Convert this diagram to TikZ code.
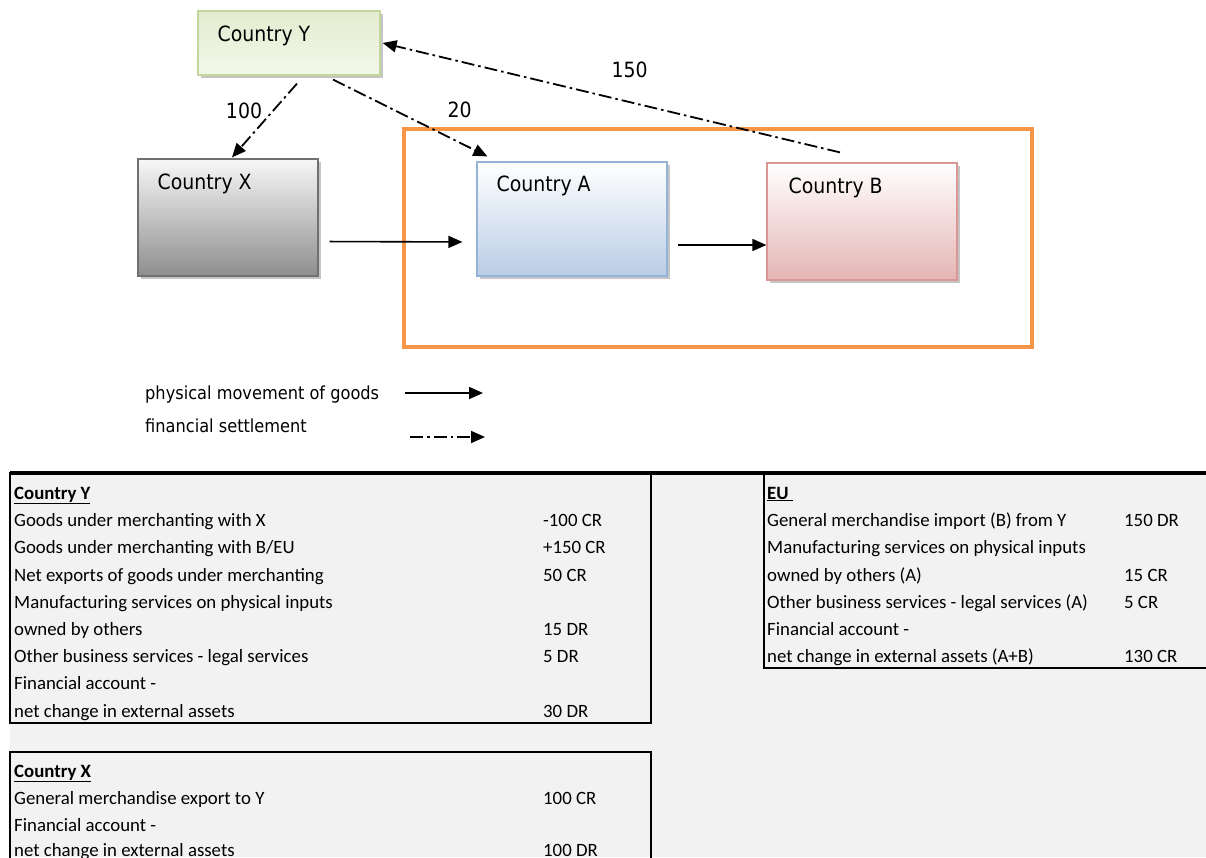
\documentclass[tikz,border=0pt]{standalone}
\usepackage{fontspec}
\usetikzlibrary{arrows.meta,shadows,positioning}
\newfontfamily\diagfont{DejaVu Sans}[FakeStretch=0.9]
\newfontfamily\tabfont{Carlito}
\definecolor{frameorange}{HTML}{F79646}
\definecolor{sheetgray}{HTML}{F2F2F2}
\definecolor{yline}{HTML}{C3D69B}
\definecolor{ytop}{HTML}{E3ECD0}
\definecolor{ybot}{HTML}{F3F7EA}
\definecolor{xline}{HTML}{707070}
\definecolor{xtop}{HTML}{F7F7F7}
\definecolor{xbot}{HTML}{8E8E8E}
\definecolor{aline}{HTML}{95B3D7}
\definecolor{abot}{HTML}{B9CDE5}
\definecolor{bline}{HTML}{D99694}
\definecolor{bbot}{HTML}{E4B5B4}

\begin{document}
\begin{tikzpicture}[x=1pt,y=-1pt,
  country/.style={draw, line width=1.2pt, inner sep=0pt,
    drop shadow={shadow xshift=3pt,shadow yshift=-3pt,fill=black!45,opacity=0.5}},
  boxtitle/.style={anchor=west, inner sep=0pt, font=\diagfont\fontsize{21}{24}\selectfont},
  num/.style={inner sep=0pt, font=\diagfont\fontsize{21}{24}\selectfont},
  legend/.style={anchor=west, inner sep=0pt, font=\diagfont\fontsize{18}{21}\selectfont},
  goods/.style={line width=1.6pt, -{Triangle[length=14pt,width=12pt]}},
  settle/.style={goods, line width=1.8pt, dash pattern=on 13pt off 4pt on 2.5pt off 4pt},
  cell/.style={anchor=base west, inner sep=0pt, font=\tabfont\fontsize{18.8}{22}\selectfont},
  rule/.style={line width=2.5pt}]
\useasboundingbox (0,0) rectangle (1206,857);
\clip (0,0) rectangle (1206,857);

% countries
\node[country, draw=yline, top color=ytop, bottom color=ybot, minimum width=182pt, minimum height=64pt] (cy) at (289,43) {};
\node[country, draw=xline, top color=xtop, bottom color=xbot, minimum width=180pt, minimum height=117pt] (cx) at (228,217.5) {};
\node[country, draw=aline, top color=white, bottom color=abot, minimum width=190pt, minimum height=114pt] (ca) at (572,219) {};
\node[country, draw=bline, top color=white, bottom color=bbot, minimum width=190pt, minimum height=117pt] (cb) at (862,221.5) {};
\node[boxtitle] (cyt) at ([xshift=20pt,yshift=-25pt]cy.north west) {Country Y};
\node[boxtitle] (cxt) at ([xshift=20pt,yshift=-25pt]cx.north west) {Country X};
\node[boxtitle] (cat) at ([xshift=20pt,yshift=-24pt]ca.north west) {Country A};
\node[boxtitle] (cbt) at ([xshift=22pt,yshift=-25pt]cb.north west) {Country B};

% EU frame
\draw[frameorange, line width=4pt] (404,129) rectangle (1032,347);

% goods and settlements
\draw[goods, shorten <=11pt, shorten >=14pt] ([yshift=-24pt]cx.east) -- ([yshift=-23pt]ca.west);
\draw[goods, shorten <=10pt] ([yshift=-26pt]ca.east) -- ([yshift=-23.5pt]cb.west);
\draw[settle] ([xshift=8pt,yshift=-8pt]cy.south) -- ([xshift=4pt,yshift=1pt]cx.north)
  node[num, pos=0.37, left=10pt] (n100) {100};
\draw[settle] ([xshift=44pt,yshift=-4pt]cy.south) -- ([xshift=11pt,yshift=5pt]ca.north west)
  node[num, pos=0.8, above=22pt, xshift=3pt] (n20) {20};
\draw[settle] ([xshift=-22pt,yshift=10pt]cb.north) -- ([xshift=2pt]cy.east)
  node[num, pos=0.46, above=23pt] (n150) {150};

% legend
\node[legend] (lgoods) at (145,395) {physical movement of goods};
\coordinate (lgoodsstart) at (405,393);
\coordinate (lgoodsend) at (483,393);
\draw[goods] (lgoodsstart) -- (lgoodsend);
\node[legend] (lsettle) at (145,426) {financial settlement};
\coordinate (lsettlestart) at (410,437);
\coordinate (lsettleend) at (485,437);
\draw[settle] (lsettlestart) -- (lsettleend);

% tables
\fill[sheetgray] (10,473) rectangle (1206,857);
\draw[line width=4pt] (10,473) -- (1206,473);
\draw[rule] (10,473) rectangle (651,723);
\draw[rule] (10,752) rectangle (651,880);
\draw[line width=2pt] (764,473) rectangle (1212,668);
\newcommand{\tabrow}[6]{\node[cell] (#1) at (#2,#4) {#5}; \node[cell] (#1v) at (#3,#4) {#6};}
\newcommand{\tabtext}[4]{\node[cell] (#1) at (#2,#3) {#4};}
% country Y
\tabtext{yh}{14}{499}{\textbf{\underline{Country Y}}}
\tabrow{y1}{14}{543}{526}{Goods under merchanting with X}{-100 CR}
\tabrow{y2}{14}{543}{553}{Goods under merchanting with B/EU}{+150 CR}
\tabrow{y3}{14}{543}{581}{Net exports of goods under merchanting}{50 CR}
\tabtext{y4}{14}{608}{Manufacturing services on physical inputs}
\tabrow{y5}{14}{543}{635}{owned by others}{15 DR}
\tabrow{y6}{14}{543}{662}{Other business services - legal services}{5 DR}
\tabtext{y7}{14}{689}{Financial account -}
\tabrow{y8}{14}{543}{717}{net change in external assets}{30 DR}
% country X
\tabtext{xh}{14}{777}{\textbf{\underline{Country X}}}
\tabrow{x1}{14}{543}{804}{General merchandise export to Y}{100 CR}
\tabtext{x2}{14}{831}{Financial account -}
\tabrow{x3}{14}{543}{856}{net change in external assets}{100 DR}
% EU
\tabtext{eh}{767}{499}{\textbf{\underline{EU~}}}
\tabrow{e1}{767}{1124}{526}{General merchandise import (B) from Y}{150 DR}
\tabtext{e2}{767}{553}{Manufacturing services on physical inputs}
\tabrow{e3}{767}{1124}{581}{owned by others (A)}{15 CR}
\tabrow{e4}{767}{1124}{608}{Other business services - legal services (A)}{5 CR}
\tabtext{e5}{767}{635}{Financial account -}
\tabrow{e6}{767}{1124}{662}{net change in external assets (A+B)}{130 CR}
\end{tikzpicture}
\end{document}
